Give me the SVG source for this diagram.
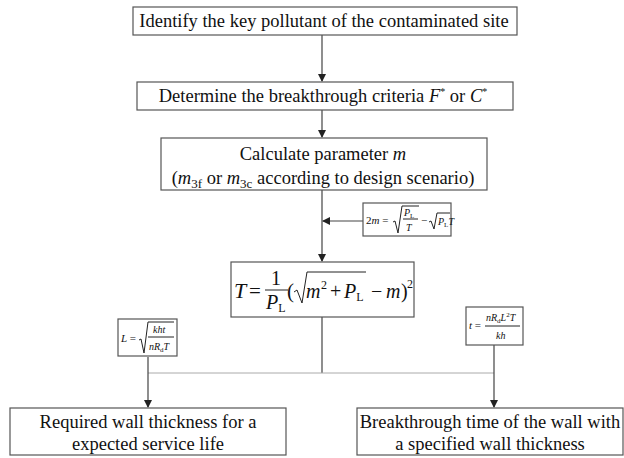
<svg xmlns="http://www.w3.org/2000/svg" width="624" height="458" viewBox="0 0 624 458" font-family="Liberation Serif, serif">
  <style>
    .box { fill: #fff; stroke: #555; stroke-width: 1.2; }
    .lbl { font-size: 18.5px; text-anchor: middle; }
    .i { font-style: italic; }
    .wire { stroke: #444; stroke-width: 1.2; fill: none; }
    .thin { stroke: #aaa; stroke-width: 1; fill: none; }
    .rad { stroke: #222; stroke-width: 1; fill: none; }
  </style>
  <defs>
    <marker id="arr" markerWidth="8" markerHeight="8" refX="7" refY="4" orient="auto" markerUnits="userSpaceOnUse">
      <path d="M0,0 L8,4 L0,8 Z" fill="#222"/>
    </marker>
  </defs>

  <!-- connectors -->
  <g id="connectors">
    <line class="wire" x1="322" y1="35" x2="322" y2="81" marker-end="url(#arr)"/>
    <line class="wire" x1="322" y1="110" x2="322" y2="137" marker-end="url(#arr)"/>
    <line class="wire" x1="322" y1="190" x2="322" y2="261" marker-end="url(#arr)"/>
    <line class="wire" x1="363" y1="221" x2="323" y2="221" marker-end="url(#arr)"/>
    <line class="wire" x1="322" y1="317" x2="322" y2="373"/>
    <line class="thin" x1="148" y1="373" x2="494" y2="373"/>
    <line class="wire" x1="148" y1="357" x2="148" y2="407" marker-end="url(#arr)"/>
    <line class="wire" x1="494" y1="345" x2="494" y2="407" marker-end="url(#arr)"/>
  </g>

  <g id="identify" fill="#111">
    <rect class="box" x="133" y="7" width="384" height="28"/>
    <text class="lbl" x="324" y="27">Identify the key pollutant of the contaminated site</text>
  </g>

  <g id="criteria" fill="#111">
    <rect class="box" x="137" y="82" width="376" height="28"/>
    <text class="lbl" x="323" y="102">Determine the breakthrough criteria <tspan class="i">F</tspan><tspan font-size="10" dy="-7">*</tspan><tspan dy="7"> or </tspan><tspan class="i">C</tspan><tspan font-size="10" dy="-7">*</tspan></text>
  </g>

  <g id="parameter" fill="#111">
    <rect class="box" x="161" y="138" width="326" height="52"/>
    <text class="lbl" x="323" y="160">Calculate parameter <tspan class="i">m</tspan></text>
    <text class="lbl" x="323" y="184">(<tspan class="i">m</tspan><tspan font-size="13" dy="4">3f</tspan><tspan dy="-4"> or </tspan><tspan class="i">m</tspan><tspan font-size="13" dy="4">3c</tspan><tspan dy="-4"> according to design scenario)</tspan></text>
  </g>

  <g id="eq-m" fill="#111">
    <rect class="box" x="363" y="203" width="88" height="33"/>
    <text font-size="11" x="366" y="224"><tspan>2</tspan><tspan class="i">m</tspan> =</text>
    <path class="rad" d="M393,222 L395,221 L398,233 L402,206 L419,206"/>
    <text class="i" font-size="10" x="404" y="216">P<tspan font-style="normal" font-size="7" dy="2">L</tspan></text>
    <line class="rad" x1="403" y1="219" x2="418" y2="219"/>
    <text class="i" font-size="10" x="406" y="231">T</text>
    <text font-size="11" x="421" y="224">−</text>
    <path class="rad" d="M429,222 L431,221 L434,229 L437,213 L450,213"/>
    <text class="i" font-size="10" x="438" y="225">P<tspan font-style="normal" font-size="7" dy="2">L</tspan><tspan dy="-2">T</tspan></text>
  </g>

  <g id="eq-T" fill="#111">
    <rect class="box" x="231" y="262" width="183" height="55"/>
    <text class="i" font-size="22" x="234" y="298">T</text>
    <text font-size="21" x="249" y="298">=</text>
    <text font-size="20" x="271" y="285">1</text>
    <line class="rad" x1="265" y1="290" x2="288" y2="290" stroke-width="1.2"/>
    <text class="i" font-size="20" x="266" y="309">P<tspan font-style="normal" font-size="12" dy="3">L</tspan></text>
    <text font-size="21" x="287" y="298">(</text>
    <path class="rad" stroke-width="1.2" d="M294,292 L297,290 L302,303 L307,272 L366,272"/>
    <text class="i" font-size="20" x="306" y="298">m</text>
    <text font-size="12" x="321" y="289">2</text>
    <text font-size="20" x="330" y="298">+</text>
    <text class="i" font-size="20" x="344" y="298">P<tspan font-style="normal" font-size="12" dy="3">L</tspan></text>
    <text font-size="20" x="371" y="298">−</text>
    <text class="i" font-size="20" x="386" y="298">m</text>
    <text font-size="20" x="401" y="298">)</text>
    <text font-size="12" x="407" y="288">2</text>
  </g>

  <g id="eq-L" fill="#111">
    <rect class="box" x="118" y="319" width="59" height="37"/>
    <text class="i" font-size="11" x="121" y="342">L <tspan font-style="normal">=</tspan></text>
    <path class="rad" d="M139,340 L141,339 L144,353 L148,322 L174,322"/>
    <text class="i" font-size="10" x="153" y="333">kht</text>
    <line class="rad" x1="148" y1="337" x2="174" y2="337"/>
    <text class="i" font-size="10" x="149" y="350">nR<tspan font-style="normal" font-size="7" dy="2">d</tspan><tspan dy="-2">T</tspan></text>
  </g>

  <g id="eq-t" fill="#111">
    <rect class="box" x="466" y="307" width="57" height="38"/>
    <text class="i" font-size="11" x="469" y="329">t <tspan font-style="normal">=</tspan></text>
    <text class="i" font-size="10" x="486" y="321">nR<tspan font-style="normal" font-size="7" dy="2">d</tspan><tspan dy="-2">L</tspan><tspan font-style="normal" font-size="7" dy="-4">2</tspan><tspan dy="4">T</tspan></text>
    <line class="rad" x1="485" y1="326" x2="520" y2="326"/>
    <text class="i" font-size="10" x="496" y="339">kh</text>
  </g>

  <g id="thickness" fill="#111">
    <rect class="box" x="10" y="408" width="276" height="47"/>
    <text class="lbl" x="148" y="428">Required wall thickness for a</text>
    <text class="lbl" x="148" y="450">expected service life</text>
  </g>

  <g id="breakthrough" fill="#111">
    <rect class="box" x="357" y="408" width="266" height="47"/>
    <text class="lbl" x="490" y="428">Breakthrough time of the wall with</text>
    <text class="lbl" x="490" y="450">a specified wall thickness</text>
  </g>
</svg>
